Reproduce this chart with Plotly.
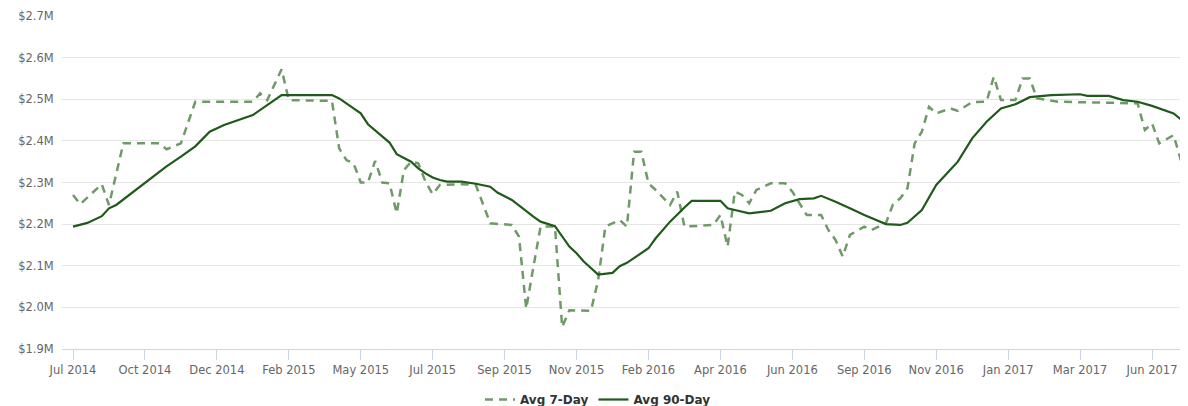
import plotly.graph_objects as go

# Week index (10 weeks between labelled ticks) and values in $M
tick_labels = ["Jul 2014", "Oct 2014", "Dec 2014", "Feb 2015", "May 2015", "Jul 2015",
               "Sep 2015", "Nov 2015", "Feb 2016", "Apr 2016", "Jun 2016", "Sep 2016",
               "Nov 2016", "Jan 2017", "Mar 2017", "Jun 2017"]
tick_index = [0, 10, 20, 30, 40, 50, 60, 70, 80, 90, 100, 110, 120, 130, 140, 150]

avg7_week = [0, 1, 4, 5, 7, 12, 13, 15, 17, 25, 26, 27, 29, 30, 36, 37, 38, 39, 40, 41,
             42, 43, 44, 45, 46, 47, 48, 49, 50, 51, 54, 56, 58, 61, 62, 63, 64, 65, 67, 68,
             69, 72, 73, 74, 76, 77, 78, 79, 80, 81, 83, 84, 85, 89, 90, 91, 92, 93, 94, 95,
             97, 99, 100, 102, 104, 105, 106, 107, 108, 110, 111, 113, 114, 115, 116, 117, 118, 119, 120, 122,
             123, 125, 127, 128, 129, 131, 132, 133, 134, 137, 143, 148, 149, 150, 151, 153, 154, 155]
avg7_value = [2.270, 2.248, 2.296, 2.246, 2.394, 2.394, 2.380, 2.394, 2.494, 2.494, 2.514, 2.498, 2.572, 2.498, 2.496, 2.382, 2.354, 2.346, 2.300, 2.300,
              2.352, 2.300, 2.298, 2.226, 2.330, 2.350, 2.346, 2.302, 2.272, 2.294, 2.296, 2.294, 2.202, 2.198, 2.170, 1.997, 2.097, 2.194, 2.194, 1.953,
              1.993, 1.992, 2.065, 2.194, 2.210, 2.194, 2.374, 2.374, 2.298, 2.282, 2.246, 2.278, 2.194, 2.198, 2.222, 2.146, 2.278, 2.270, 2.250, 2.282,
              2.298, 2.298, 2.278, 2.222, 2.222, 2.186, 2.162, 2.122, 2.174, 2.194, 2.186, 2.202, 2.248, 2.262, 2.286, 2.394, 2.422, 2.482, 2.466, 2.478,
              2.472, 2.493, 2.494, 2.554, 2.498, 2.498, 2.550, 2.550, 2.502, 2.494, 2.492, 2.490, 2.426, 2.442, 2.394, 2.414, 2.354, 2.298]

avg90_week = [0, 2, 4, 5, 6, 9, 12, 13, 15, 17, 19, 21, 25, 27, 29, 36, 37, 40, 41, 44,
              45, 47, 48, 49, 50, 51, 52, 54, 56, 58, 59, 61, 62, 64, 65, 67, 69, 70, 71, 73,
              75, 76, 77, 79, 80, 81, 83, 85, 86, 90, 91, 92, 94, 97, 99, 101, 103, 104, 106, 108,
              110, 113, 115, 116, 118, 120, 123, 125, 127, 129, 131, 133, 136, 140, 141, 144, 146, 148, 150, 153, 155]
avg90_value = [2.194, 2.203, 2.219, 2.238, 2.246, 2.286, 2.326, 2.339, 2.362, 2.387, 2.422, 2.438, 2.462, 2.486, 2.510, 2.510, 2.502, 2.466, 2.440, 2.396,
               2.368, 2.350, 2.334, 2.322, 2.312, 2.306, 2.302, 2.302, 2.297, 2.290, 2.276, 2.258, 2.244, 2.218, 2.206, 2.195, 2.146, 2.130, 2.110, 2.079,
               2.083, 2.099, 2.107, 2.130, 2.142, 2.166, 2.206, 2.240, 2.256, 2.256, 2.238, 2.234, 2.226, 2.232, 2.250, 2.260, 2.262, 2.268, 2.254, 2.238,
               2.222, 2.200, 2.198, 2.203, 2.234, 2.294, 2.350, 2.406, 2.446, 2.478, 2.488, 2.505, 2.510, 2.512, 2.508, 2.508, 2.498, 2.494, 2.484, 2.466, 2.438]

y_ticks = [1.9, 2.0, 2.1, 2.2, 2.3, 2.4, 2.5, 2.6, 2.7]
y_labels = ["$1.9M", "$2.0M", "$2.1M", "$2.2M", "$2.3M", "$2.4M", "$2.5M", "$2.6M", "$2.7M"]

fig = go.Figure()
fig.add_trace(go.Scatter(x=avg7_week, y=avg7_value, mode="lines", name="<b>Avg 7-Day</b>",
                         line=dict(color="#6f9a68", width=2.5, dash="8px,6px")))
fig.add_trace(go.Scatter(x=avg90_week, y=avg90_value, mode="lines", name="<b>Avg 90-Day</b>",
                         line=dict(color="#1f5a1a", width=2.2)))

# The page body has an 8px default margin; the figure starts there.
fig.update_layout(
    width=1180, height=406,
    margin=dict(l=54, r=0, t=8, b=65),
    paper_bgcolor="white", plot_bgcolor="white",
    font=dict(family="DejaVu Sans", size=11.5, color="#666666"),
    showlegend=True,
    legend=dict(orientation="h", xref="container", yref="container",
                x=0.5, xanchor="center", y=0.0, yanchor="bottom",
                font=dict(size=12, color="#333333", family="DejaVu Sans"),
                itemwidth=30, bgcolor="rgba(0,0,0,0)"),
    xaxis=dict(range=[-1.53, 155], tickmode="array", tickvals=tick_index, ticktext=tick_labels,
               showgrid=False, zeroline=False, showline=True, linecolor="#ccd6eb", linewidth=1,
               ticks="outside", ticklen=10, tickcolor="#ccd6eb",
               tickfont=dict(size=11.5, color="#666666")),
    yaxis=dict(range=[1.9, 2.7], tickmode="array", tickvals=y_ticks, ticktext=y_labels,
               showgrid=True, gridcolor="#e6e6e6", gridwidth=1, zeroline=False, showline=False,
               ticks="outside", ticklen=5, tickcolor="rgba(0,0,0,0)",
               tickfont=dict(size=11.5, color="#666666")),
)

fig.write_html("out.html")
